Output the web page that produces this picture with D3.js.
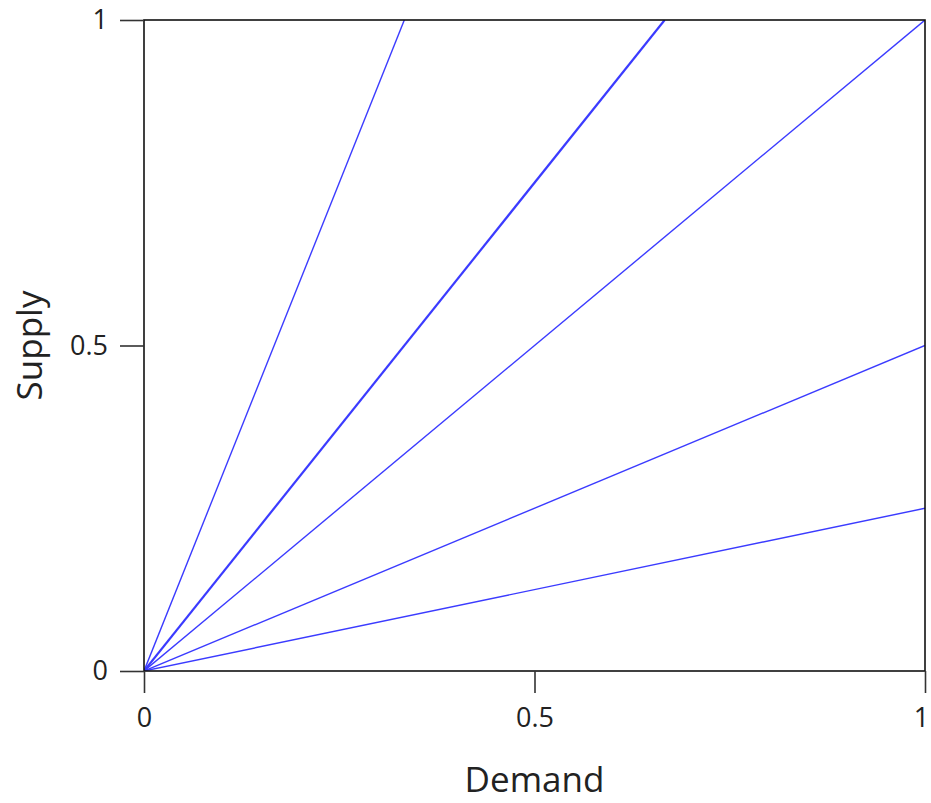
<!DOCTYPE html>
<html>
<head>
<meta charset="utf-8">
<script src="https://cdn.jsdelivr.net/npm/d3@7"></script>
<style>
  body { margin: 0; background: #fff; }
  text { font-family: "Open Sans", "Noto Sans", sans-serif; fill: #222; }
</style>
</head>
<body>
<div id="chart"></div>
<script>
// supply = slope * demand, one ray per slope
const slopes = [3, 1.5, 1, 0.5, 0.25];
const widths = [1.4, 2.2, 1.4, 1.4, 1.4];
const xTicks = [0, 0.5, 1];
const yTicks = [0, 0.5, 1];

const W = 931, H = 803;
const margin = { top: 20, right: 6, bottom: 132, left: 144 };
const iw = W - margin.left - margin.right;
const ih = H - margin.top - margin.bottom;

const svg = d3.select('#chart').append('svg')
    .attr('width', W)
    .attr('height', H);

const g = svg.append('g')
    .attr('transform', `translate(${margin.left},${margin.top})`);

const x = d3.scaleLinear().domain([0, 1]).range([0, iw]);
const y = d3.scaleLinear().domain([0, 1]).range([ih, 0]);

// rays from origin, clipped to the unit box
g.append('clipPath').attr('id', 'clip')
    .append('rect').attr('width', iw).attr('height', ih);

g.append('g').attr('clip-path', 'url(#clip)')
    .selectAll('line.ray')
    .data(slopes)
    .enter()
    .append('line')
    .attr('class', 'ray')
    .attr('x1', x(0))
    .attr('y1', y(0))
    .attr('x2', d => x(Math.min(1, 1 / d)))
    .attr('y2', d => y(Math.min(1, d)))
    .attr('stroke', '#3b3bff')
    .attr('stroke-width', (d, i) => widths[i]);

// frame
g.append('rect')
    .attr('width', iw)
    .attr('height', ih)
    .attr('fill', 'none')
    .attr('stroke', '#111')
    .attr('stroke-width', 1.6);

const fmt = d => String(d);

const xAxis = g.append('g')
    .attr('transform', `translate(0,${ih})`)
    .call(d3.axisBottom(x).tickValues(xTicks).tickFormat(fmt).tickSize(22).tickPadding(15));

const yAxis = g.append('g')
    .call(d3.axisLeft(y).tickValues(yTicks).tickFormat(fmt).tickSize(24).tickPadding(12));

[xAxis, yAxis].forEach(a => {
    a.attr('font-size', null).attr('font-family', null);
    a.select('.domain').remove();
    a.selectAll('.tick line').attr('stroke', '#333').attr('stroke-width', 1.6);
    a.selectAll('.tick text').style('font-size', '27px').attr('fill', '#222');
});

// last x label sits at the window edge; pull it in so it is not clipped
xAxis.selectAll('.tick text').filter(d => d === 1).attr('dx', -4);

g.append('text')
    .attr('x', iw / 2)
    .attr('y', ih + 121)
    .attr('text-anchor', 'middle')
    .style('font-size', '35px')
    .text('Demand');

g.append('text')
    .attr('transform', `translate(${-102},${ih / 2}) rotate(-90)`)
    .attr('text-anchor', 'middle')
    .style('font-size', '35px')
    .text('Supply');
</script>
</body>
</html>
